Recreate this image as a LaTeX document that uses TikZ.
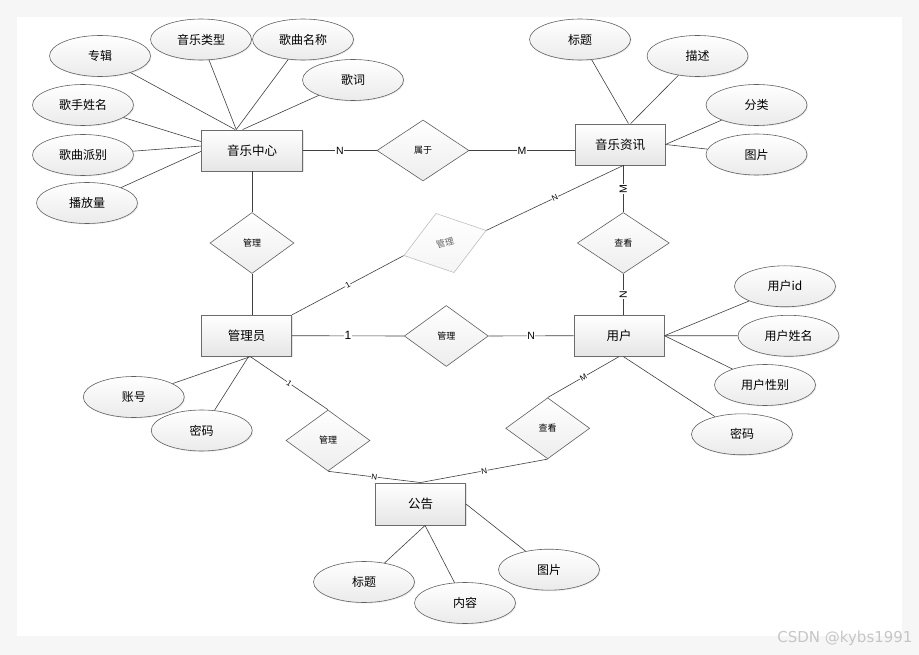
\documentclass[tikz,border=0pt]{standalone}
\usepackage{fontspec}
\setmainfont{Liberation Sans}
\newfontfamily\cjk{Noto Sans CJK SC}
\newfontfamily\wmfont{DejaVu Sans}
\usetikzlibrary{shapes.geometric,shadows}

\begin{document}
\begin{tikzpicture}[x=1pt,y=-1pt]
				\tikzstyle{ent}=[rectangle, draw=gray!85!black, line width=0.9pt, top color=white, bottom color=gray!20, minimum width=90pt, minimum height=41pt, inner sep=0pt, font=\cjk\fontsize{12.5}{14}\selectfont, drop shadow={opacity=0.2, shadow xshift=1.2pt, shadow yshift=-1.2pt}]
				\tikzstyle{att}=[ellipse, draw=gray!75!black, line width=0.6pt, top color=white, bottom color=gray!16, minimum width=101pt, minimum height=41pt, inner sep=0pt, font=\cjk\fontsize{12}{14}\selectfont, drop shadow={opacity=0.15, shadow xshift=1pt, shadow yshift=-1pt}]
				\tikzstyle{rel}=[diamond, draw=gray!75!black, line width=0.6pt, top color=white, bottom color=gray!14, minimum width=84pt, minimum height=61pt, inner sep=0pt, font=\cjk\fontsize{9}{10}\selectfont]
				\tikzstyle{faded}=[draw=gray!50, text=black!60, bottom color=gray!8]
				\tikzstyle{ln}=[draw=black!75, line width=0.6pt]
				\tikzstyle{lbl}=[fill=white, inner sep=0.6pt, font=\fontsize{10.5}{11}\selectfont]
				\tikzstyle{slbl}=[lbl, sloped, font=\fontsize{8}{9}\selectfont]

				% page
				\fill[gray!7] (0,0) rectangle (919,655);
				\fill[white] (17,17) rectangle (902,636);

				% entities
				\node[ent, minimum width=101pt] (music) at (252,150.5) {音乐中心};
				\node[ent] (news) at (620,144.5) {音乐资讯};
				\node[ent] (admin) at (246.7,335.7) {管理员};
				\node[ent] (user) at (619,335.7) {用户};
				\node[ent, minimum height=42pt] (notice) at (420.5,504) {公告};

				% relations
				\node[rel, minimum width=92pt] (r1) at (423,150.5) {属于};
				\node[rel] (r2) at (252,243) {管理};
				\node[rel, faded, minimum width=86pt, minimum height=62pt, rotate=17] (r3) at (445,243) {管理};
				\node[rel, minimum width=92pt] (r4) at (623.3,243) {查看};
				\node[rel] (r5) at (446.3,336) {管理};
				\node[rel] (r6) at (328,440.5) {管理};
				\node[rel] (r7) at (547.7,428.3) {查看};

				% attributes
				\node[att] (a1) at (100,56) {专辑};
				\node[att] (a2) at (201,39.5) {音乐类型};
				\node[att] (a3) at (303,39.5) {歌曲名称};
				\node[att] (a4) at (353,80) {歌词};
				\node[att] (a5) at (83,105) {歌手姓名};
				\node[att] (a6) at (83,155) {歌曲派别};
				\node[att] (a7) at (87,203) {播放量};
				\node[att] (b1) at (580,39.5) {标题};
				\node[att] (b2) at (697.5,56) {描述};
				\node[att] (b3) at (756.5,105) {分类};
				\node[att] (b4) at (756.5,154.5) {图片};
				\node[att] (u1) at (785,286.3) {用户id};
				\node[att] (u2) at (788.5,335.8) {用户姓名};
				\node[att] (u3) at (765,385) {用户性别};
				\node[att] (u4) at (742,434.3) {密码};
				\node[att] (m1) at (133.8,397) {账号};
				\node[att] (m2) at (201.7,430.5) {密码};
				\node[att] (n1) at (364,582) {标题};
				\node[att] (n2) at (465,603) {内容};
				\node[att] (n3) at (549,569.7) {图片};

				\foreach \from/\to in {a1/music.129,a2/music.127,a3/music.127,a4/music.114,a5/music.170,a6/music.175,a7/music.181,b1/news.68,b2/news.63,b3/news.east,b4/news.east,u1/user.east,u2/user.east,u3/user.east,u4/user.282,m1/admin.280,m2/admin.275,n1/notice.282,n2/notice.282,n3/notice.east}
				\draw[ln] (\from) -- (\to);

				% relation lines
				\draw[ln] (music) -- node[lbl] {N} (r1);
				\draw[ln] (r1.east) -- node[lbl] {M} (r1.east -| news.west);
				\draw[ln] (news.south -| r4.north) -- node[lbl, rotate=90] {M} (r4.north);
				\draw[ln] (r4.south) -- node[lbl, rotate=90] {N} (r4.south |- user.north);
				\draw[ln] (music.south) -- (r2.north);
				\draw[ln] (r2.south) -- (r2.south |- admin.north);
				\draw[ln] (admin.north east) -- node[slbl] {1} (r3.west);
				\draw[ln] (r3.east) -- node[slbl] {N} (news.south -| r4.north);
				\draw[ln] (admin.east) -- node[lbl, font=\fontsize{12}{13}\selectfont] {1} (r5.west);
				\draw[ln] (r5.east) -- node[lbl] {N} (user.west);
				\draw[ln] (admin.280) -- node[slbl] {1} (r6.north);
				\draw[ln] (r6.south) -- node[slbl] {N} (notice.north);
				\draw[ln] (user.south) -- node[slbl] {M} (r7.north);
				\draw[ln] (r7.south) -- node[slbl] {N} (notice.north);

				\node[font=\wmfont\fontsize{15}{16}\selectfont, text=gray!45, anchor=east] (wm) at (916,638) {CSDN @kybs1991};
\end{tikzpicture}
\end{document}
